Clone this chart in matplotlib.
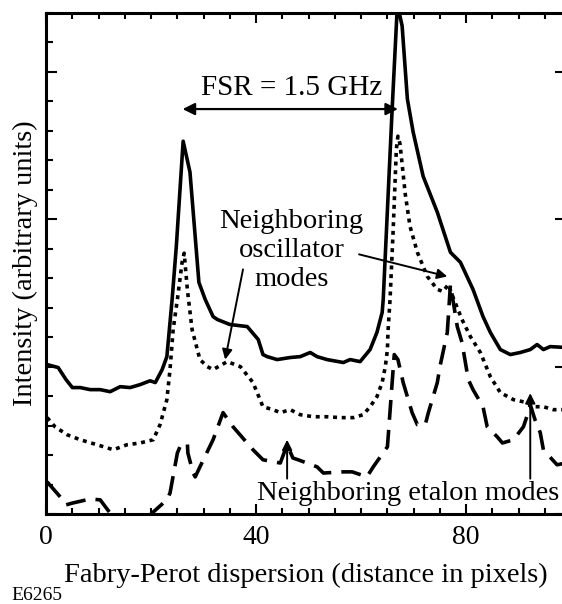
import matplotlib
matplotlib.use("Agg")
import matplotlib.pyplot as plt
from matplotlib.ticker import MultipleLocator, FixedLocator, NullFormatter

plt.rcParams["font.family"] = ["Liberation Serif", "DejaVu Serif"]

# 实线 (上方曲线)
solid_x = [0.2, 2.3, 3.8, 5.0, 6.5, 8.4, 10.3, 12.2, 14.1, 16.0, 17.9, 19.8, 20.8,
           22.1, 23.0, 24.0, 24.8, 26.1, 27.4, 29.1, 30.3, 31.8, 32.6, 35.0, 38.3,
           40.4, 41.3, 42.1, 44.0, 46.5, 48.4, 50.3, 51.6, 53.5, 56.6, 57.9, 59.8,
           61.7, 63.0, 64.0, 64.2, 65.9, 66.9, 67.8, 68.8, 69.9, 71.8, 74.5, 77.0,
           78.9, 81.3, 83.2, 84.6, 86.5, 88.4, 90.3, 92.2, 93.5, 94.7, 96.0, 99.0]
solid_y = [5.07, 4.97, 4.56, 4.29, 4.29, 4.22, 4.22, 4.15, 4.32, 4.29, 4.39, 4.52, 4.46,
           4.90, 5.34, 7.28, 9.08, 12.65, 11.6, 7.86, 7.28, 6.70, 6.60, 6.43, 6.36,
           5.92, 5.41, 5.34, 5.24, 5.31, 5.34, 5.48, 5.34, 5.24, 5.14, 5.24, 5.17,
           5.58, 6.16, 6.84, 7.28, 13.74, 17.3, 16.56, 14.08, 12.96, 11.46, 10.24, 8.88,
           8.54, 7.62, 6.70, 6.16, 5.58, 5.41, 5.48, 5.58, 5.75, 5.58, 5.68, 5.65]

# 点线 (中间曲线)
dot_x = [0.2, 1.7, 4.0, 6.5, 9.7, 12.8, 15.4, 17.9, 20.4, 21.7, 23.0, 23.6, 24.2,
         25.0, 25.9, 26.3, 26.9, 27.8, 28.8, 29.3, 30.7, 31.8, 33.1, 34.5, 37.0,
         39.4, 41.3, 43.2, 44.6, 46.5, 48.4, 50.9, 53.5, 56.0, 58.5, 60.4, 61.7,
         63.0, 64.0, 64.6, 65.0, 65.1, 65.5, 66.1, 66.7, 67.0, 67.4, 67.8, 68.4,
         69.3, 70.7, 72.6, 74.5, 75.6, 76.6, 77.5, 79.2, 80.8, 82.7, 84.6, 86.5,
         89.0, 91.6, 92.8, 94.7, 96.6, 99.0]
dot_y = [3.27, 2.96, 2.69, 2.52, 2.35, 2.18, 2.35, 2.41, 2.52, 3.03, 3.88, 4.90, 6.26,
         7.28, 8.54, 8.85, 7.62, 6.26, 5.58, 5.24, 5.00, 4.90, 5.03, 5.17, 5.00,
         4.46, 3.64, 3.54, 3.44, 3.54, 3.37, 3.30, 3.30, 3.27, 3.27, 3.37, 3.64,
         3.98, 4.46, 5.00, 5.58, 6.16, 7.28, 9.66, 12.38, 12.82, 12.55, 11.87, 10.85,
         9.76, 8.88, 8.06, 7.62, 7.55, 7.79, 7.35, 6.60, 6.02, 5.48, 4.66, 4.12,
         3.88, 3.78, 3.64, 3.64, 3.54, 3.54]

# 虚线 (下方曲线)
dash_x = [0.2, 2.7, 3.8, 5.0, 8.4, 10.3, 12.2, 13.5, 18.5, 19.8, 23.0, 23.6, 25.0,
          25.5, 26.9, 27.0, 28.0, 28.4, 29.3, 31.8, 33.7, 35.6, 39.4, 41.3, 44.6,
          45.9, 47.0, 48.0, 51.6, 52.8, 56.6, 58.3, 61.1, 62.3, 65.0, 65.1, 65.9,
          66.3, 67.0, 68.0, 68.8, 69.7, 70.7, 72.2, 72.8, 74.5, 75.0, 76.4, 77.0,
          78.3, 79.2, 80.4, 81.3, 83.2, 84.0, 85.9, 86.9, 89.0, 90.9, 91.8, 92.2,
          93.1, 94.1, 94.7, 97.3, 99.0]
dash_y = [1.09, 0.58, 0.31, 0.37, 0.51, 0.48, 0.03, -0.1, -0.1, -0.03, 0.48, 0.71, 2.07,
          2.28, 2.41, 2.07, 1.39, 1.26, 1.60, 2.52, 3.44, 2.96, 2.18, 1.84, 1.73,
          2.35, 1.90, 1.84, 1.60, 1.39, 1.43, 1.43, 1.26, 1.60, 2.28, 2.52, 4.46,
          5.41, 5.24, 4.46, 3.98, 3.44, 3.03, 3.03, 3.44, 4.46, 5.00, 6.16, 7.79,
          6.36, 5.82, 4.56, 4.22, 3.64, 2.96, 2.62, 2.41, 2.52, 2.96, 3.44, 3.71,
          3.20, 2.76, 2.18, 1.67, 1.73]

x_ticks = [0, 40, 80]
x_tick_labels = ["0", "40", "80"]

fig = plt.figure(figsize=(5.62, 6.04), dpi=100)
# 右边框略超出图像，仅露出右侧刻度的一小段
ax = fig.add_axes([0.082, 0.149, 0.926, 0.8295])

lw = 2.6
ax.plot(solid_x, solid_y, color="black", linewidth=lw, solid_joinstyle="round")
ax.plot(dot_x, dot_y, color="black", linewidth=lw, linestyle=(0, (1.1, 1.3)))
ax.plot(dash_x, dash_y, color="black", linewidth=lw, linestyle=(0, (5.5, 2.8)))

ax.set_xlim(0, 99.1)
ax.set_ylim(0, 17)

# 坐标轴刻度
ax.xaxis.set_major_locator(FixedLocator(x_ticks))
ax.set_xticklabels(x_tick_labels)
ax.xaxis.set_minor_locator(MultipleLocator(5))
ax.yaxis.set_major_locator(MultipleLocator(5))
ax.yaxis.set_minor_locator(MultipleLocator(1))
ax.yaxis.set_major_formatter(NullFormatter())
ax.tick_params(axis="x", which="both", direction="in", top=True, bottom=True,
               labelsize=20, pad=8, width=1.5, color="black")
ax.tick_params(axis="x", which="major", length=7)
ax.tick_params(axis="x", which="minor", length=4)
ax.tick_params(axis="y", which="both", direction="in", left=True, right=False, width=1.5)
ax.tick_params(axis="y", which="major", length=8, right=True)
ax.tick_params(axis="y", which="minor", length=5)
ax.spines["right"].set_visible(False)
for side in ["left", "top", "bottom"]:
    ax.spines[side].set_linewidth(2.2)

ax.set_xlabel("Fabry-Perot dispersion (distance in pixels)", fontsize=20.5, labelpad=9)
ax.set_ylabel("Intensity (arbitrary units)", fontsize=20.5, labelpad=2)

# FSR 双向箭头
ax.annotate("", xy=(26.0, 13.74), xytext=(67.0, 13.74),
            arrowprops=dict(arrowstyle="<|-|>", color="black", lw=1.6,
                            mutation_scale=18, shrinkA=0, shrinkB=0))
ax.text(46.7, 14.45, "FSR = 1.5 GHz", fontsize=21, ha="center", va="center")

# 邻近振荡模式
ax.text(46.7, 8.95, "Neighboring\noscillator\nmodes", fontsize=20.5, ha="center",
        va="center", linespacing=1.2)
arrow_kw = dict(arrowstyle="-|>", color="black", lw=1.4, mutation_scale=15,
                shrinkA=0, shrinkB=0)
ax.annotate("", xy=(34.1, 5.24), xytext=(37.5, 8.3), arrowprops=arrow_kw)
ax.annotate("", xy=(76.4, 8.06), xytext=(59.6, 8.81), arrowprops=arrow_kw)

# 邻近标准具模式
ax.text(69.0, 0.7, "Neighboring etalon modes", fontsize=20.5, ha="center", va="center")
ax.annotate("", xy=(45.9, 2.52), xytext=(45.9, 1.2), arrowprops=arrow_kw)
ax.annotate("", xy=(92.2, 4.1), xytext=(92.2, 1.2), arrowprops=arrow_kw)

fig.text(0.02, 0.006, "E6265", fontsize=14, ha="left", va="baseline")

fig.savefig("out.png", dpi=100)
